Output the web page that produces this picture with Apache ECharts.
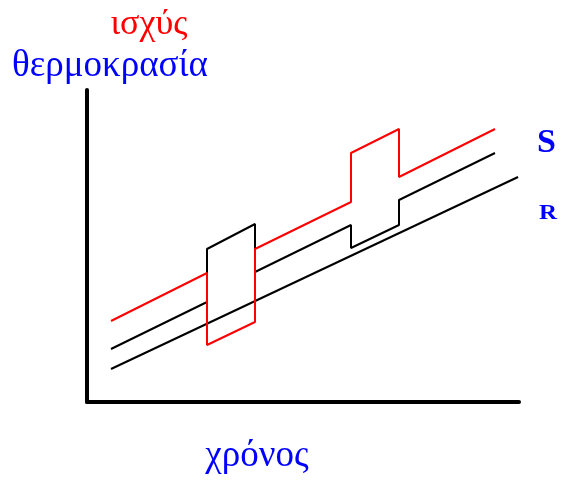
<!DOCTYPE html>
<html>
<head>
<meta charset="utf-8">
<script src="https://cdn.jsdelivr.net/npm/echarts@6/dist/echarts.min.js"></script>
<style>
	html, body { margin: 0; padding: 0; background: #fff; }
	#chart { width: 562px; height: 480px; }
</style>
</head>
<body>
<div id="chart"></div>
<script>
	// time on x (0..9), value on y (0..31.2)
	let redLine = [[0.5, 8.1], [2.5, 12.9], [2.5, 5.7], [3.5, 8.0], [3.5, 15.3], [5.5, 20.0], [5.5, 24.9], [6.5, 27.3], [6.5, 22.5], [8.5, 27.3]];
	let sLine = [[0.5, 5.3], [2.5, 10.0], [2.5, 15.3], [3.5, 17.8], [3.5, 13.0], [5.5, 17.7], [5.5, 15.4], [6.5, 17.7], [6.5, 20.2], [8.5, 24.9]];
	let rLine = [[0.5, 3.3], [8.98, 22.5]];

	let serif = '"Liberation Serif", "DejaVu Serif", serif';

	let chart = echarts.init(document.getElementById('chart'));
	let lineSeries = function(data, color) {
		return {
			type: 'line',
			data: data,
			showSymbol: false,
			symbol: 'none',
			animation: false,
			lineStyle: { color: color, width: 2 }
		};
	};
	let label = function(text, x, y, color, font, align, sx) {
		return {
			type: 'text', x: x, y: y, scaleX: sx || 1,
			style: { text: text, fill: color, font: font, align: align, verticalAlign: 'middle' }
		};
	};
	chart.setOption({
		animation: false,
		grid: { left: 87, right: 43, top: 90, bottom: 78 },
		xAxis: {
			type: 'value', min: 0, max: 9,
			axisLine: { show: true, lineStyle: { color: '#000', width: 4 } },
			axisTick: { show: false }, axisLabel: { show: false }, splitLine: { show: false }
		},
		yAxis: {
			type: 'value', min: 0, max: 31.2,
			axisLine: { show: true, lineStyle: { color: '#000', width: 4 } },
			axisTick: { show: false }, axisLabel: { show: false }, splitLine: { show: false }
		},
		graphic: [
			label('ισχύς', 149, 25, '#ff0000', '36px ' + serif, 'center'),
			label('θερμοκρασία', 12, 66, '#0000ff', '37px ' + serif, 'left'),
			label('χρόνος', 257, 456, '#0000ff', '37px ' + serif, 'center'),
			label('S', 537, 143, '#0000ff', 'bold 34px ' + serif, 'left'),
			label('R', 539, 214, '#0000ff', 'bold 20px ' + serif, 'left', 1.25)
		],
		series: [
			lineSeries(rLine, '#000'),
			lineSeries(sLine, '#000'),
			lineSeries(redLine, '#ff0000')
		]
	});
</script>
</body>
</html>
